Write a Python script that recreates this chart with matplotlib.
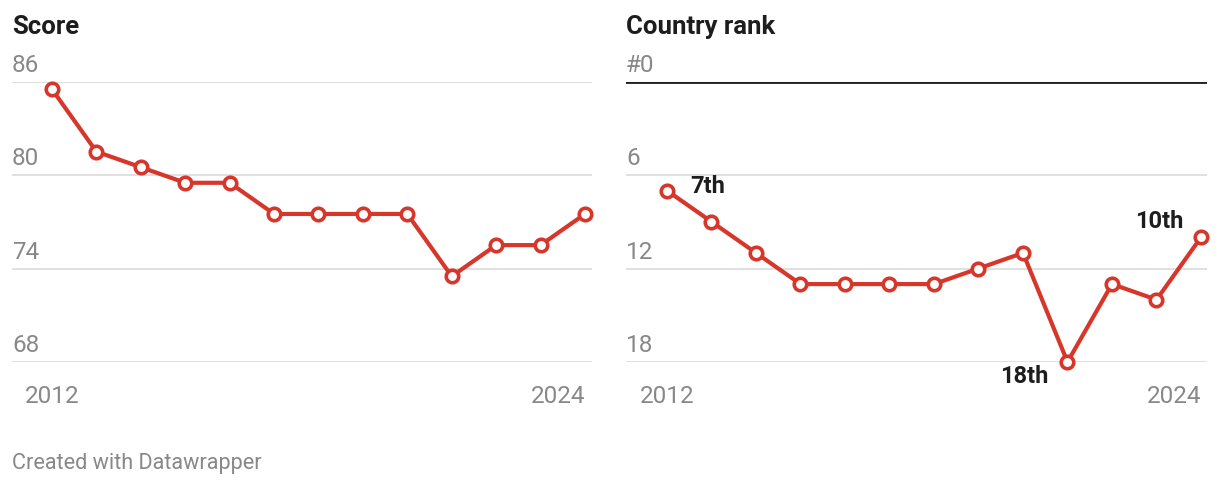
import matplotlib
matplotlib.use("Agg")
import matplotlib.pyplot as plt

plt.rcParams['font.family'] = ['Roboto', 'DejaVu Sans']

years = [2012, 2013, 2014, 2015, 2016, 2017, 2018, 2019, 2020, 2021, 2022, 2023, 2024]
score = [85.5, 81.5, 80.5, 79.5, 79.5, 77.5, 77.5, 77.5, 77.5, 73.5, 75.5, 75.5, 77.5]
rank = [7, 9, 11, 13, 13, 13, 13, 12, 11, 18, 13, 14, 10]

score_ticks = [68, 74, 80, 86]
rank_ticks = [0, 6, 12, 18]
rank_tick_labels = ["#0", "6", "12", "18"]
x_tick_years = [2012, 2024]
rank_notes = [(2012, 7, "7th"), (2021, 18, "18th"), (2024, 10, "10th")]

RED = "#d7362b"
GRID = "#e0e0e0"
LABEL = "#888888"
DARK = "#1d1d1d"
W, H = 1220, 486
PT = 72 / 100  # points per pixel

TICK_FS = 17.5
TITLE_FS = 18.5
NOTE_FS = 17
FOOT_FS = 15.6

fig = plt.figure(figsize=(W / 100, H / 100), dpi=100)


def fx(px):
    return px / W


def fy(py):
    return 1 - py / H


top_px, bot_px = 81.5, 362


def make_axes(x0, x1):
    ax = fig.add_axes([fx(x0), fy(bot_px), fx(x1 - x0), fy(top_px) - fy(bot_px)])
    for s in ax.spines.values():
        s.set_visible(False)
    ax.set_xticks([])
    ax.set_yticks([])
    ax.patch.set_alpha(0)
    return ax


def draw_line(ax, ys):
    ax.plot(years, ys, color=RED, lw=3, solid_joinstyle='round', zorder=3, clip_on=False)
    ax.plot(years, ys, ls='none', marker='o', ms=9, mfc='white', mec=RED, mew=2.6,
            zorder=4, clip_on=False)


def y_labels(ax, ticks, labels, zero_dark=False):
    for t, lab in zip(ticks, labels):
        if zero_dark and t == 0:
            ax.axhline(t, color=DARK, lw=2, zorder=1)
        else:
            ax.axhline(t, color=GRID, lw=1.4, zorder=1)
        ax.annotate(lab, xy=(0, t), xycoords=('axes fraction', 'data'),
                    xytext=(0, 10 * PT), textcoords='offset points', ha='left',
                    va='baseline', fontsize=TICK_FS, color=LABEL)


def x_labels(ax):
    for i, yr in enumerate(x_tick_years):
        ax.annotate(str(yr), xy=(yr, 0), xycoords=('data', 'axes fraction'),
                    xytext=(0, -41 * PT), textcoords='offset points',
                    ha='center' if i == 0 else 'right', va='baseline',
                    fontsize=TICK_FS, color=LABEL)


# Score chart
ax1 = make_axes(12, 592)
ax1.set_ylim(68, 86)
ax1.set_xlim(2012 - 40 / 44.42, 2024 + 7 / 44.42)
y_labels(ax1, score_ticks, [str(t) for t in score_ticks])
draw_line(ax1, score)
x_labels(ax1)
fig.text(fx(12), fy(34), "Score", fontsize=TITLE_FS, fontweight='bold', color=DARK,
         ha='left', va='baseline')

# Rank chart
ax2 = make_axes(626, 1207)
ax2.set_ylim(18, 0)
ax2.set_xlim(2012 - 41 / 44.5, 2024 + 6 / 44.5)
y_labels(ax2, rank_ticks, rank_tick_labels, zero_dark=True)
draw_line(ax2, rank)
x_labels(ax2)

offsets = {"7th": ((23 * PT, -2 * PT), 'left'),
           "18th": ((-19 * PT, -21 * PT), 'right'),
           "10th": ((-18 * PT, 9 * PT), 'right')}
for yr, r, txt in rank_notes:
    off, ha = offsets[txt]
    ax2.annotate(txt, xy=(yr, r), xytext=off, textcoords='offset points',
                 ha=ha, va='baseline', fontsize=NOTE_FS, fontweight='bold', color=DARK)

fig.text(fx(626), fy(34), "Country rank", fontsize=TITLE_FS, fontweight='bold',
         color=DARK, ha='left', va='baseline')

fig.text(fx(12), fy(469), "Created with Datawrapper", fontsize=FOOT_FS, color=LABEL,
         ha='left', va='baseline')

fig.savefig("out.png", dpi=100)
